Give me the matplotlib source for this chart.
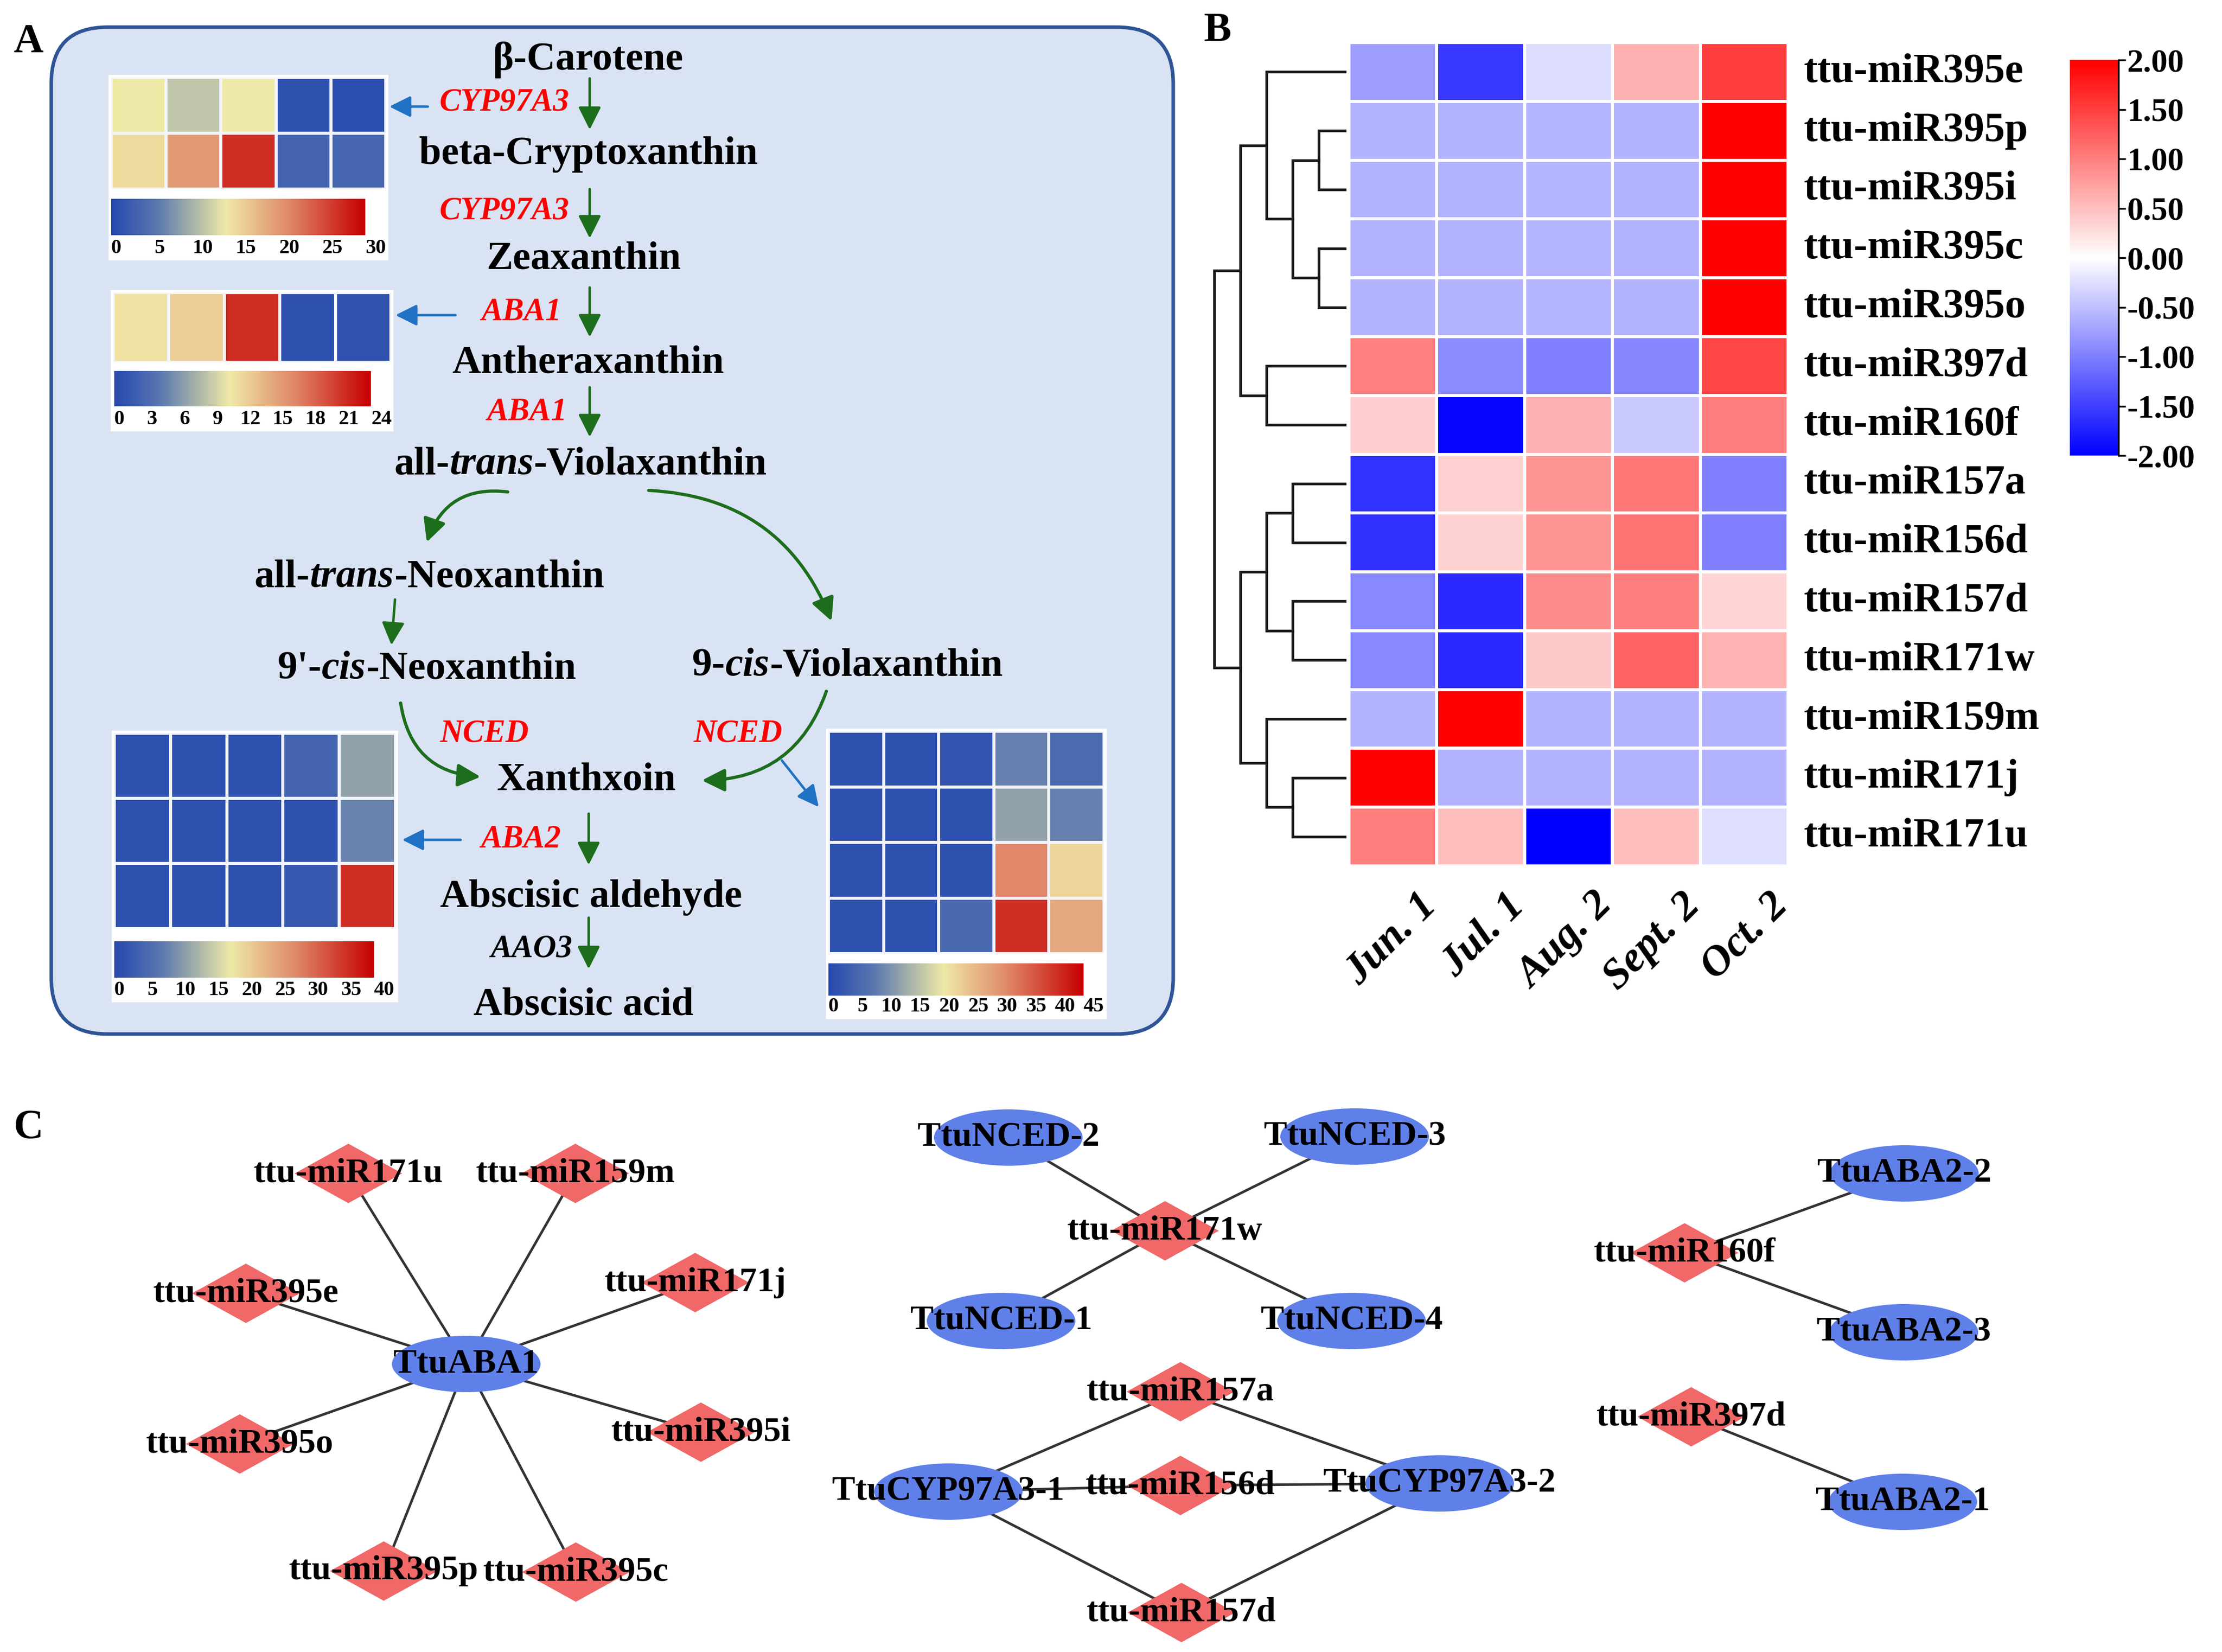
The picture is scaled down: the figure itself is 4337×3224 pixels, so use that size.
import numpy as np
import matplotlib
matplotlib.use('Agg')
import matplotlib.pyplot as plt
from matplotlib.colors import LinearSegmentedColormap
from matplotlib.patches import FancyBboxPatch, Rectangle, Ellipse, Polygon, FancyArrowPatch

plt.rcParams['font.family'] = ['serif']
plt.rcParams['font.serif'] = ['Liberation Serif', 'Times New Roman', 'DejaVu Serif']
plt.rcParams['font.weight'] = 'bold'

W, H = 4337, 3224

# ---------------- data ----------------
# panel A: small expression heatmaps (columns = 5 sampling dates)
hm_cyp97a3 = [[13.5, 11.0, 13.5, 1.0, 0.6],
              [14.7, 19.8, 27.0, 3.0, 3.3]]
cb_cyp97a3 = [0, 5, 10, 15, 20, 25, 30]
hm_aba1 = [[11.3, 12.5, 21.6, 0.7, 0.9]]
cb_aba1 = [0, 3, 6, 9, 12, 15, 18, 21, 24]
hm_aba2 = [[1.2, 1.2, 1.2, 4.0, 11.2],
           [1.2, 1.2, 1.2, 1.2, 8.4],
           [1.2, 1.2, 1.2, 2.4, 36.0]]
cb_aba2 = [0, 5, 10, 15, 20, 25, 30, 35, 40]
hm_nced = [[1.3, 1.3, 2.2, 9.0, 5.8],
           [1.3, 1.3, 1.3, 12.6, 9.0],
           [1.3, 1.3, 1.3, 31.5, 22.5],
           [1.3, 1.3, 5.4, 40.5, 27.9]]
cb_nced = [0, 5, 10, 15, 20, 25, 30, 35, 40, 45]

# panel B: z-scored miRNA expression
months = ['Jun. 1', 'Jul. 1', 'Aug. 2', 'Sept. 2', 'Oct. 2']
mirnas = ['ttu-miR395e', 'ttu-miR395p', 'ttu-miR395i', 'ttu-miR395c', 'ttu-miR395o',
          'ttu-miR397d', 'ttu-miR160f', 'ttu-miR157a', 'ttu-miR156d', 'ttu-miR157d',
          'ttu-miR171w', 'ttu-miR159m', 'ttu-miR171j', 'ttu-miR171u']
zscores = [[-0.76, -1.55, -0.27, 0.62, 1.50],
           [-0.60, -0.60, -0.58, -0.60, 2.00],
           [-0.60, -0.60, -0.58, -0.60, 2.00],
           [-0.60, -0.60, -0.58, -0.60, 2.00],
           [-0.60, -0.60, -0.58, -0.60, 2.00],
           [0.99, -0.90, -1.00, -0.95, 1.45],
           [0.38, -1.95, 0.62, -0.43, 1.00],
           [-1.60, 0.37, 0.84, 1.07, -1.00],
           [-1.62, 0.35, 0.84, 1.08, -1.00],
           [-0.93, -1.67, 0.90, 1.00, 0.33],
           [-0.93, -1.67, 0.43, 1.22, 0.60],
           [-0.60, 2.00, -0.60, -0.60, -0.60],
           [2.00, -0.60, -0.60, -0.60, -0.60],
           [1.00, 0.50, -2.00, 0.50, -0.26]]
cb_ticks = [2.0, 1.5, 1.0, 0.5, 0.0, -0.5, -1.0, -1.5, -2.0]
# row dendrogram: new cluster id = 14 + index, (left, right, height)
merges = [(1, 2, 1), (3, 4, 1), (14, 15, 2), (0, 16, 3), (5, 6, 3), (17, 18, 4),
          (7, 8, 2), (9, 10, 2), (20, 21, 3), (12, 13, 2), (11, 23, 3), (22, 24, 4),
          (19, 25, 5)]

# panel C: miRNA - target networks
edges = [('TtuABA1', 'ttu-miR171u'), ('TtuABA1', 'ttu-miR159m'), ('TtuABA1', 'ttu-miR171j'),
         ('TtuABA1', 'ttu-miR395e'), ('TtuABA1', 'ttu-miR395o'), ('TtuABA1', 'ttu-miR395i'),
         ('TtuABA1', 'ttu-miR395p'), ('TtuABA1', 'ttu-miR395c'),
         ('ttu-miR171w', 'TtuNCED-1'), ('ttu-miR171w', 'TtuNCED-2'),
         ('ttu-miR171w', 'TtuNCED-3'), ('ttu-miR171w', 'TtuNCED-4'),
         ('ttu-miR157a', 'TtuCYP97A3-1'), ('ttu-miR157a', 'TtuCYP97A3-2'),
         ('ttu-miR156d', 'TtuCYP97A3-1'), ('ttu-miR156d', 'TtuCYP97A3-2'),
         ('ttu-miR157d', 'TtuCYP97A3-1'), ('ttu-miR157d', 'TtuCYP97A3-2'),
         ('ttu-miR160f', 'TtuABA2-2'), ('ttu-miR160f', 'TtuABA2-3'),
         ('ttu-miR397d', 'TtuABA2-1')]
# node layout (pixel positions)
layout = {'TtuABA1': (910, 2662), 'ttu-miR171u': (680, 2290), 'ttu-miR159m': (1123, 2290),
          'ttu-miR171j': (1357, 2503), 'ttu-miR395e': (480, 2524), 'ttu-miR395o': (468, 2818),
          'ttu-miR395i': (1368, 2795), 'ttu-miR395p': (749, 3066), 'ttu-miR395c': (1124, 3068),
          'TtuNCED-2': (1968, 2220), 'TtuNCED-3': (2644, 2218), 'ttu-miR171w': (2274, 2402),
          'TtuNCED-1': (1954, 2578), 'TtuNCED-4': (2638, 2578), 'ttu-miR157a': (2304, 2716),
          'TtuCYP97A3-1': (1851, 2911), 'ttu-miR156d': (2304, 2899), 'TtuCYP97A3-2': (2810, 2895),
          'ttu-miR157d': (2306, 3147), 'TtuABA2-2': (3717, 2290), 'ttu-miR160f': (3288, 2445),
          'TtuABA2-3': (3716, 2600), 'ttu-miR397d': (3301, 2765), 'TtuABA2-1': (3714, 2931)}

# ---------------- figure ----------------
fig = plt.figure(figsize=(W / 100, H / 100), dpi=100)
ax = fig.add_axes([0, 0, 1, 1])
ax.set_xlim(0, W)
ax.set_ylim(H, 0)
ax.axis('off')
renderer = fig.canvas.get_renderer()


def px_axes(x0, y0, x1, y1):
    return fig.add_axes([x0 / W, 1 - y1 / H, (x1 - x0) / W, (y1 - y0) / H])


cmap_a = LinearSegmentedColormap.from_list(
    'expr', [(0, '#2649AE'), (0.18, '#5B78B0'), (0.3, '#9DABAA'), (0.45, '#EFE9A7'),
             (0.7, '#E0896A'), (1.0, '#C60000')])
cmap_b = LinearSegmentedColormap.from_list('bwr2', ['#0000FF', '#FFFFFF', '#FF0000'])

# panel letters
for lab, (x, y) in {'A': (55, 83), 'B': (2377, 61), 'C': (55, 2202)}.items():
    ax.text(x, y, lab, fontsize=58, ha='center', va='center')

# ---------------- panel A ----------------
ax.add_patch(FancyBboxPatch((100, 53), 2190, 1965, boxstyle='round,pad=0,rounding_size=110',
                            fc='#DAE3F3', ec='#2F5597', lw=5, zorder=0))


def small_heatmap(vals, ticks, cells, bar, label_y):
    vals = np.array(vals)
    x0, y0, x1, y1 = cells
    bx0, by0, bx1, by1 = bar
    ax.add_patch(Rectangle((x0 - 5, y0 - 5), x1 - x0 + 10, label_y + 24 - y0 + 5,
                           fc='white', ec='none', zorder=1))
    hax = px_axes(x0, y0, x1, y1)
    hax.pcolormesh(vals, cmap=cmap_a, vmin=0, vmax=ticks[-1], edgecolors='#F2F4FA', linewidth=3)
    hax.set_ylim(vals.shape[0], 0)
    hax.axis('off')
    cax = px_axes(bx0, by0, bx1, by1)
    cax.imshow(np.linspace(0, 1, 256)[None, :], cmap=cmap_a, aspect='auto')
    cax.axis('off')
    for t, xp in zip(ticks, np.linspace(bx0 + 10, bx1 + 20, len(ticks))):
        ax.text(xp, label_y, str(t), fontsize=29, ha='center', va='center', zorder=2)


small_heatmap(hm_cyp97a3, cb_cyp97a3, (217, 151, 753, 369), (217, 388, 713, 459), 484)
small_heatmap(hm_aba1, cb_aba1, (221, 571, 763, 707), (223, 724, 724, 793), 818)
small_heatmap(hm_aba2, cb_aba2, (223, 1431, 772, 1812), (223, 1837, 730, 1908), 1932)
small_heatmap(hm_nced, cb_nced, (1617, 1427, 2155, 1861), (1617, 1880, 2115, 1943), 1965)


def mixed(xc, yc, parts, size):
    em = size * 100 / 72
    objs = [ax.text(0, yc + 0.3 * em, s, fontsize=size, fontstyle=st, ha='left', va='baseline')
            for s, st in parts]
    widths = [o.get_window_extent(renderer).width for o in objs]
    x = xc - sum(widths) / 2
    for o, w in zip(objs, widths):
        o.set_x(x)
        x += w


compounds = [('β-Carotene', 1148, 113), ('beta-Cryptoxanthin', 1148, 297),
             ('Zeaxanthin', 1139, 501), ('Antheraxanthin', 1148, 704),
             ('Xanthxoin', 1144, 1518), ('Abscisic aldehyde', 1154, 1747),
             ('Abscisic acid', 1139, 1957)]
for s, x, y in compounds:
    mixed(x, y, [(s, 'normal')], 56)
mixed(1133, 902, [('all-', 'normal'), ('trans', 'italic'), ('-Violaxanthin', 'normal')], 56)
mixed(838, 1122, [('all-', 'normal'), ('trans', 'italic'), ('-Neoxanthin', 'normal')], 56)
mixed(833, 1301, [("9'-", 'normal'), ('cis', 'italic'), ('-Neoxanthin', 'normal')], 56)
mixed(1654, 1295, [('9-', 'normal'), ('cis', 'italic'), ('-Violaxanthin', 'normal')], 56)

enzymes = [('CYP97A3', 985, 200, 'red'), ('CYP97A3', 985, 412, 'red'),
           ('ABA1', 1017, 610, 'red'), ('ABA1', 1028, 805, 'red'),
           ('NCED', 945, 1433, 'red'), ('NCED', 1440, 1433, 'red'),
           ('ABA2', 1016, 1639, 'red'), ('AAO3', 1037, 1852, 'black')]
for s, x, y, c in enzymes:
    ax.text(x, y, s, fontsize=45, style='italic', color=c, ha='center', va='center')

green = '#1C6E1C'
straight = [((1151, 153), (1151, 253)), ((1151, 369), (1151, 465)), ((1151, 561), (1151, 658)),
            ((1151, 756), (1151, 853)), ((771, 1170), (764, 1259)), ((1149, 1588), (1149, 1688)),
            ((1149, 1791), (1149, 1891))]
for p0, p1 in straight:
    ax.add_patch(FancyArrowPatch(p0, p1, arrowstyle='-|>,head_length=0.9,head_width=0.45',
                                 mutation_scale=30, color=green, lw=3.5, shrinkA=0, shrinkB=0))
curved = [((991, 960), (833, 1058), 0.4), ((1266, 957), (1623, 1212), -0.32),
          ((782, 1372), (938, 1516), 0.4), ((1613, 1349), (1370, 1523), -0.35)]
for p0, p1, rad in curved:
    ax.add_patch(FancyArrowPatch(p0, p1, arrowstyle='-|>,head_length=0.9,head_width=0.45',
                                 connectionstyle='arc3,rad=%s' % rad, mutation_scale=30,
                                 color=green, lw=4.5, shrinkA=0, shrinkB=0))
blue_arrows = [((835, 208), (760, 208)), ((889, 615), (772, 615)),
               ((899, 1639), (785, 1639)), ((1526, 1484), (1598, 1575))]
for p0, p1 in blue_arrows:
    ax.add_patch(FancyArrowPatch(p0, p1, arrowstyle='-|>,head_length=0.9,head_width=0.45',
                                 mutation_scale=28, color='#1F72C4', lw=3.5, shrinkA=0, shrinkB=0))

# ---------------- panel B ----------------
bx0, by0, bx1, by1 = 2633, 83, 3490, 1690
z = np.array(zscores)
nrow = len(mirnas)
bax = px_axes(bx0, by0, bx1, by1)
bax.pcolormesh(z, cmap=cmap_b, vmin=-2, vmax=2, edgecolors='white', linewidth=3)
bax.set_xlim(0, 5)
bax.set_ylim(nrow, 0)
bax.axis('off')
for i, name in enumerate(mirnas):
    bax.text(5.18, i + 0.5, name, fontsize=58, ha='left', va='center', clip_on=False)
for j, m in enumerate(months):
    bax.text(j + 0.78, nrow + 0.35, m, fontsize=60, style='italic', rotation=45,
             ha='right', va='top', rotation_mode='anchor', clip_on=False)

# dendrogram
row_h = (by1 - by0) / nrow
pos = {i: (2625, by0 + (i + 0.5) * row_h) for i in range(nrow)}
for k, (a, b, h) in enumerate(merges):
    xm = 2625 - 51 * h
    (xa, ya), (xb, yb) = pos[a], pos[b]
    ax.plot([xa, xm, xm, xb], [ya, ya, yb, yb], color='#1A1A1A', lw=3.8, solid_joinstyle='miter')
    pos[nrow + k] = (xm, (ya + yb) / 2)

cax = px_axes(4040, 117, 4135, 889)
cax.imshow(np.linspace(2, -2, 256)[:, None], cmap=cmap_b, vmin=-2, vmax=2, aspect='auto',
           extent=[0, 1, -2, 2])
cax.set_xticks([])
cax.yaxis.tick_right()
cax.set_yticks(cb_ticks)
cax.set_yticklabels(['%.2f' % t for t in cb_ticks], fontsize=46)
cax.tick_params(axis='y', length=10, width=2.5, pad=2)
for sp in ['top', 'left', 'bottom']:
    cax.spines[sp].set_visible(False)
cax.spines['right'].set_linewidth(2.5)

# ---------------- panel C ----------------
for a, b in edges:
    (xa, ya), (xb, yb) = layout[a], layout[b]
    ax.plot([xa, xb], [ya, yb], color='#333333', lw=3.6, zorder=3)
for name, (x, y) in layout.items():
    if name.startswith('Ttu'):
        ax.add_patch(Ellipse((x, y), 290, 110, fc='#5F80E8', ec='none', zorder=4))
    else:
        ax.add_patch(Polygon([(x - 105, y), (x, y - 58), (x + 105, y), (x, y + 58)],
                             closed=True, fc='#F06868', ec='none', zorder=4))
    ax.text(x, y, name, fontsize=49, ha='center', va='center', zorder=5)

fig.savefig('out.png', dpi=100)
